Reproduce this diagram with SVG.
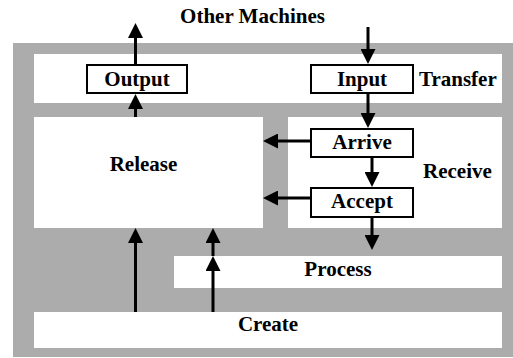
<svg xmlns="http://www.w3.org/2000/svg" width="513" height="358" viewBox="0 0 513 358">
  <style>
    .region { fill: #ffffff; stroke: none; }
    .box { fill: #ffffff; stroke: #000000; stroke-width: 2; }
    text { font-family: 'Liberation Serif', 'Times New Roman', serif; font-weight: bold; font-size: 21px; fill: #000000; }
    .mid { text-anchor: middle; }
    .conn { stroke: #000000; stroke-width: 3; fill: none; marker-end: url(#ah); }
  </style>
  <defs>
    <marker id="ah" viewBox="0 0 15 15" refX="5" refY="7.5" markerWidth="15" markerHeight="15" markerUnits="userSpaceOnUse" orient="auto">
      <path d="M0,0 L15,7.5 L0,15 Z" fill="#000000"/>
    </marker>
  </defs>
  <rect x="0" y="0" width="513" height="358" fill="#ffffff"/>
  <rect id="background" x="13" y="43" width="500" height="314" fill="#acacac"/>

  <g id="other-machines">
    <text class="mid" x="252.5" y="23">Other Machines</text>
  </g>
  <g id="transfer">
    <rect class="region" x="34" y="54" width="468" height="49"/>
    <text x="419" y="86">Transfer</text>
  </g>
  <g id="release">
    <rect class="region" x="34" y="117" width="229" height="111"/>
    <text class="mid" x="143.5" y="171">Release</text>
  </g>
  <g id="receive">
    <rect class="region" x="288" y="117" width="214" height="111"/>
    <text x="423" y="178">Receive</text>
  </g>
  <g id="process">
    <rect class="region" x="174" y="256" width="328" height="32"/>
    <text class="mid" x="338" y="276">Process</text>
  </g>
  <g id="create">
    <rect class="region" x="34" y="312" width="468" height="36"/>
    <text class="mid" x="268" y="331">Create</text>
  </g>
  <g id="output">
    <rect class="box" x="87" y="65" width="100" height="28"/>
    <text class="mid" x="137" y="86">Output</text>
  </g>
  <g id="input">
    <rect class="box" x="311" y="65" width="102" height="28"/>
    <text class="mid" x="362" y="86">Input</text>
  </g>
  <g id="arrive">
    <rect class="box" x="311" y="129" width="102" height="28"/>
    <text class="mid" x="362" y="149">Arrive</text>
  </g>
  <g id="accept">
    <rect class="box" x="311" y="188" width="102" height="29"/>
    <text class="mid" x="362" y="208">Accept</text>
  </g>

  <g id="connectors">
    <line class="conn" x1="135.5" y1="64" x2="135.5" y2="33"/>
    <line class="conn" x1="135.5" y1="117" x2="135.5" y2="104"/>
    <line class="conn" x1="368" y1="27" x2="368" y2="54"/>
    <line class="conn" x1="368" y1="94" x2="368" y2="118"/>
    <line class="conn" x1="310" y1="141" x2="273" y2="141"/>
    <line class="conn" x1="372" y1="158" x2="372" y2="177"/>
    <line class="conn" x1="310" y1="198" x2="273" y2="198"/>
    <line class="conn" x1="372" y1="218" x2="372" y2="240"/>
    <line class="conn" x1="135.5" y1="312" x2="135.5" y2="238"/>
    <line class="conn" x1="213" y1="256" x2="213" y2="238"/>
    <line class="conn" x1="213" y1="312" x2="213" y2="266"/>
  </g>
</svg>
